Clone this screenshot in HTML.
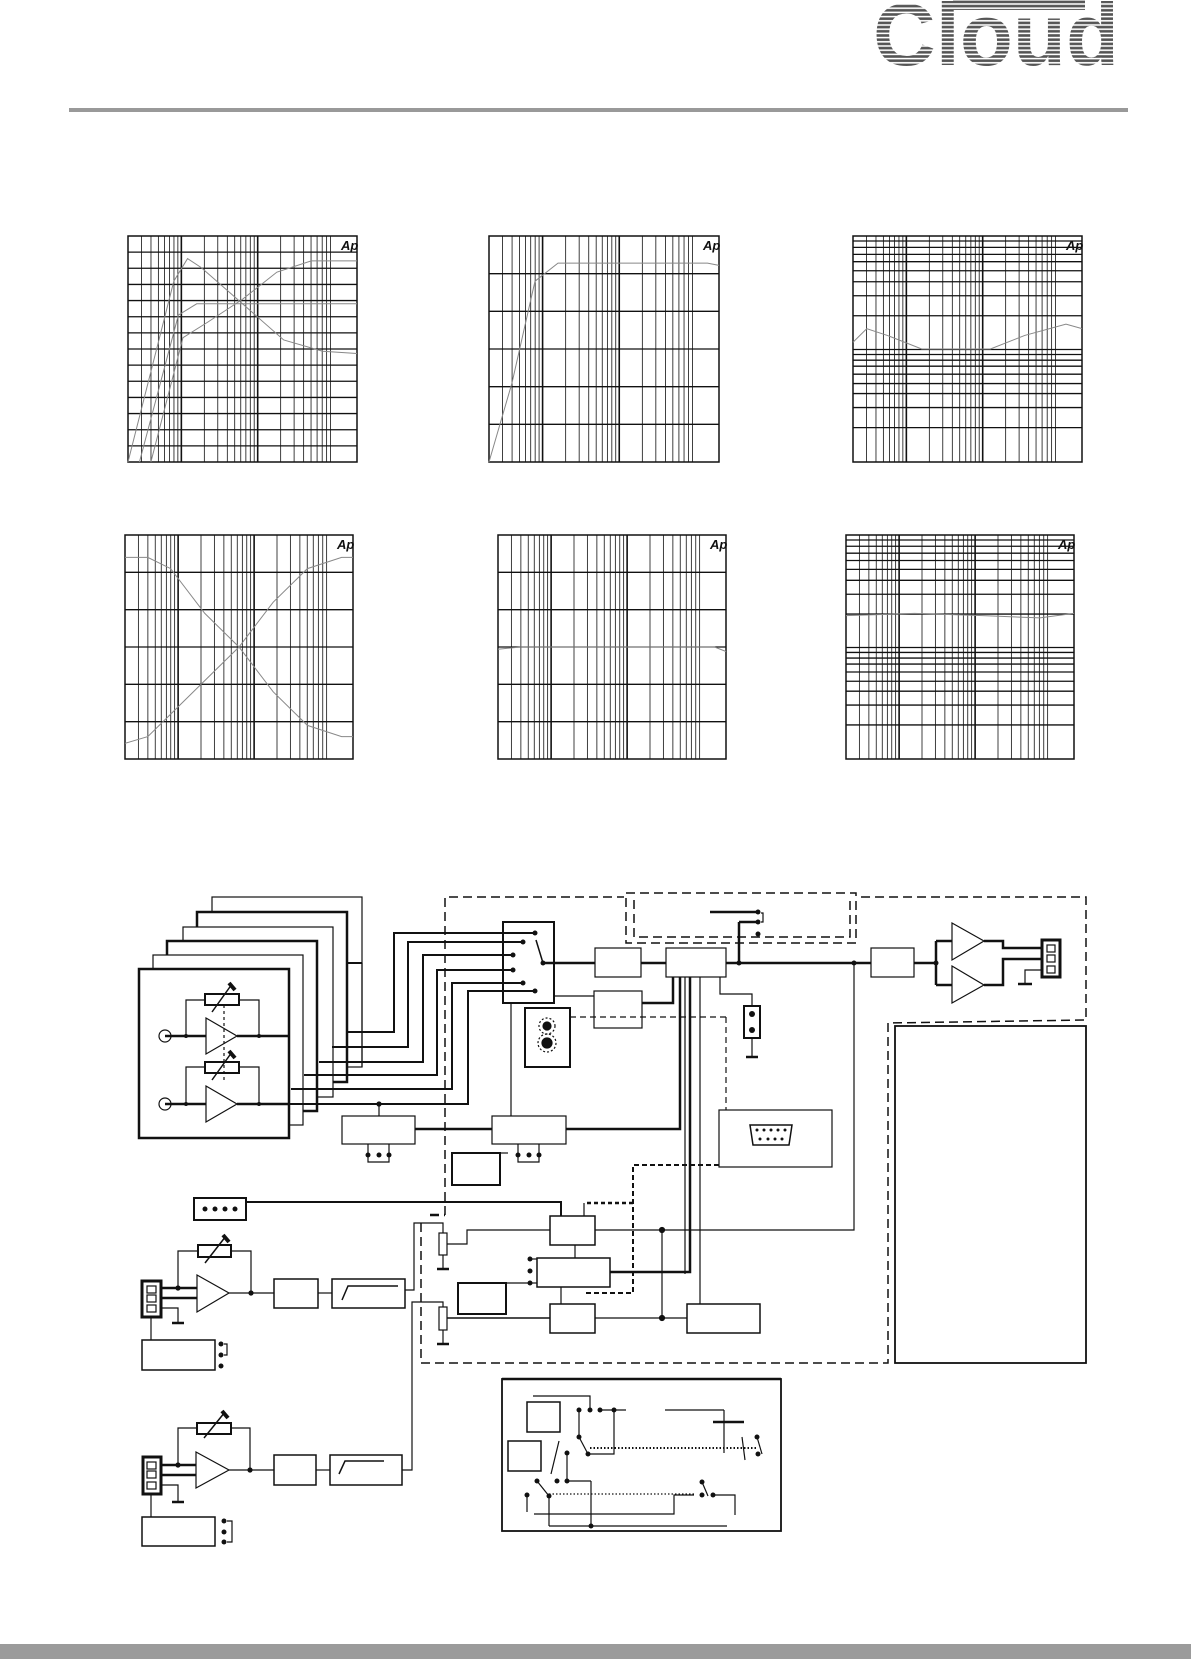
<!DOCTYPE html>
<html><head><meta charset="utf-8"><style>
html,body{margin:0;padding:0;background:#fff}
svg{display:block}
</style></head><body>
<svg id="s" width="1191" height="1659" viewBox="0 0 1191 1659" xmlns="http://www.w3.org/2000/svg" font-family="Liberation Sans, sans-serif">
<defs>
<pattern id="stripe" width="4" height="4.2" patternUnits="userSpaceOnUse">
<rect width="4" height="4.2" fill="#fff"/><rect y="0.6" width="4" height="2.6" fill="#555"/>
</pattern>
</defs>
<!-- logo -->
<rect x="953" y="0" width="132" height="10" fill="url(#stripe)"/>
<text x="873" y="65" font-size="88" font-weight="bold" textLength="246" lengthAdjust="spacingAndGlyphs" fill="url(#stripe)">Cloud</text>
<rect x="69" y="108" width="1059" height="4" fill="#999"/>
<rect x="0" y="1644" width="1191" height="15" fill="#9b9b9b"/>
<g id="charts"></g>
<g id="diag" fill="none" stroke="#111" stroke-width="1.2">
<!-- back cards -->
<rect x="212" y="897" width="150" height="170" fill="#fff"/>
<rect x="197" y="912" width="150" height="170" fill="#fff" stroke-width="2.5"/>
<rect x="183" y="927" width="150" height="170" fill="#fff"/>
<rect x="167" y="941" width="150" height="170" fill="#fff" stroke-width="2.5"/>
<rect x="153" y="955" width="150" height="170" fill="#fff"/>
<rect x="139" y="969" width="150" height="169" fill="#fff" stroke-width="2.5"/>
<!-- card contents row1 -->
<circle cx="165" cy="1036" r="6"/>
<line x1="165" y1="1036" x2="206" y2="1036" stroke-width="2.5"/>
<polygon points="206,1018 237,1036 206,1054"/>
<line x1="237" y1="1036" x2="289" y2="1036" stroke-width="2.5"/>
<polyline points="186,1036 186,1000 205,1000"/><polyline points="239,1000 259,1000 259,1036"/>
<rect x="205" y="994" width="34" height="11" stroke-width="2"/>
<line x1="212" y1="1012" x2="232" y2="984" stroke-width="1.5"/><line x1="229" y1="983" x2="235" y2="990" stroke-width="4"/>
<line x1="224" y1="1005" x2="224" y2="1080" stroke-dasharray="3,3"/>
<!-- row2 -->
<circle cx="165" cy="1104" r="6"/>
<line x1="165" y1="1104" x2="206" y2="1104" stroke-width="2.5"/>
<polygon points="206,1086 237,1104 206,1122"/>
<line x1="237" y1="1104" x2="289" y2="1104" stroke-width="2.5"/>
<polyline points="186,1104 186,1067 205,1067"/><polyline points="239,1067 259,1067 259,1104"/>
<rect x="205" y="1062" width="34" height="11" stroke-width="2"/>
<line x1="212" y1="1080" x2="232" y2="1052" stroke-width="1.5"/><line x1="229" y1="1051" x2="235" y2="1058" stroke-width="4"/>
<g fill="#111" stroke="none"><circle cx="186" cy="1036" r="2"/><circle cx="259" cy="1036" r="2"/><circle cx="186" cy="1104" r="2"/><circle cx="259" cy="1104" r="2"/></g>
<!-- bus lines -->
<g stroke-width="2">
<polyline points="347,1032 394,1032 394,933 535,933"/>
<polyline points="332,1047 408,1047 408,942 523,942"/>
<polyline points="319,1062 423,1062 423,955 513,955"/>
<polyline points="304,1075 437,1075 437,970 513,970"/>
<polyline points="291,1089 452,1089 452,983 523,983"/>
<polyline points="289,1104 468,1104 468,991 535,991"/>
</g>
<line x1="362" y1="963" x2="362" y2="1067"/><line x1="347" y1="963" x2="362" y2="963" stroke-width="2"/>
<!-- selector -->
<rect x="503" y="922" width="51" height="81" stroke-width="2"/>
<g fill="#111" stroke="none"><circle cx="535" cy="933" r="2.5"/><circle cx="523" cy="942" r="2.5"/><circle cx="513" cy="955" r="2.5"/><circle cx="513" cy="970" r="2.5"/><circle cx="523" cy="983" r="2.5"/><circle cx="535" cy="991" r="2.5"/><circle cx="543" cy="963" r="2.5"/></g>
<line x1="543" y1="963" x2="536" y2="940" stroke-width="1.5"/>
<!-- main line -->
<g stroke-width="2.5"><line x1="543" y1="963" x2="595" y2="963"/><line x1="641" y1="963" x2="666" y2="963"/><line x1="726" y1="963" x2="871" y2="963"/><line x1="914" y1="963" x2="936" y2="963"/>
<polyline points="936,941 936,985"/><line x1="936" y1="941" x2="952" y2="941"/><line x1="936" y1="985" x2="952" y2="985"/>
<polyline points="984,941 1003,941 1003,948 1042,948"/><polyline points="984,985 1003,985 1003,959 1042,959"/>
</g>
<rect x="595" y="948" width="46" height="29"/>
<rect x="666" y="948" width="60" height="29"/>
<rect x="594" y="991" width="48" height="37"/>
<rect x="871" y="948" width="43" height="29"/>
<polygon points="952,923 984,941 952,960"/>
<polygon points="952,966 984,985 952,1003"/>
<rect x="1042" y="940" width="18" height="37" stroke-width="3"/>
<g fill="#111" stroke="none"><rect x="1047" y="945" width="8" height="7" fill="none" stroke="#111"/><rect x="1047" y="955" width="8" height="7" fill="none" stroke="#111"/><rect x="1047" y="966" width="8" height="7" fill="none" stroke="#111"/></g>
<polyline points="1042,970 1025,970 1025,984"/><line x1="1018" y1="984" x2="1032" y2="984" stroke-width="2.5"/>
<g fill="#111" stroke="none"><circle cx="739" cy="963" r="2.5"/><circle cx="854" cy="963" r="2.5"/><circle cx="936" cy="963" r="2.5"/></g>
<line x1="739" y1="963" x2="739" y2="922" stroke-width="2.5"/><line x1="739" y1="922" x2="758" y2="922" stroke-width="2.5"/>
<line x1="710" y1="912" x2="758" y2="912" stroke-width="2.5"/>
<g fill="#111" stroke="none"><circle cx="758" cy="912" r="2.5"/><circle cx="758" cy="922" r="2.5"/><circle cx="758" cy="934" r="2.5"/></g>
<polyline points="761,913 763,913 763,922 761,922"/>
<!-- selector to B3 -->
<polyline points="554,996 594,996"/><polyline points="642,1003 673,1003 673,977" stroke-width="2.5"/>
<line x1="511" y1="1003" x2="511" y2="1116"/>
<!-- LED -->
<rect x="525" y="1008" width="45" height="59" stroke-width="2"/>
<circle cx="547" cy="1026" r="4" fill="#111"/><circle cx="547" cy="1043" r="5" fill="#111"/>
<g stroke-dasharray="2,2"><circle cx="547" cy="1026" r="8"/><circle cx="547" cy="1043" r="9"/></g>
<line x1="570" y1="1017" x2="726" y2="1017" stroke-dasharray="6,4"/>
<line x1="726" y1="1017" x2="726" y2="1110" stroke-dasharray="6,4"/>
<!-- jumper -->
<polyline points="720,977 720,994 752,994 752,1006"/>
<rect x="744" y="1006" width="16" height="32" stroke-width="2"/>
<g fill="#111" stroke="none"><circle cx="752" cy="1014" r="3"/><circle cx="752" cy="1030" r="3"/></g>
<line x1="752" y1="1038" x2="752" y2="1057"/><line x1="746" y1="1057" x2="758" y2="1057" stroke-width="2.5"/>
<!-- verticals from B2 -->
<polyline points="680,977 680,1129 566,1129" stroke-width="2.5"/>
<line x1="685" y1="977" x2="685" y2="1274"/>
<polyline points="690,977 690,1272 610,1272" stroke-width="2.5"/>
<polyline points="700,977 700,1304"/>
<!-- C1 C2 -->
<rect x="342" y="1116" width="73" height="28"/>
<rect x="492" y="1116" width="74" height="28"/>
<line x1="415" y1="1129" x2="492" y2="1129" stroke-width="2.5"/>
<line x1="379" y1="1104" x2="379" y2="1116"/><circle cx="379" cy="1104" r="2" fill="#111"/>
<g fill="#111" stroke="none"><circle cx="368" cy="1155" r="2.5"/><circle cx="379" cy="1155" r="2.5"/><circle cx="389" cy="1155" r="2.5"/><circle cx="518" cy="1155" r="2.5"/><circle cx="529" cy="1155" r="2.5"/><circle cx="539" cy="1155" r="2.5"/></g>
<polyline points="368,1144 368,1162 389,1162 389,1144"/><polyline points="518,1144 518,1162 539,1162 539,1144"/>
<rect x="452" y="1153" width="48" height="32" stroke-width="2"/><line x1="500" y1="1153" x2="508" y2="1153"/>
<!-- DB9 -->
<rect x="719" y="1110" width="113" height="57"/>
<path d="M750,1125 L792,1125 L789,1145 L753,1145 Z" stroke-width="1.5"/>
<g fill="#111" stroke="none"><circle cx="757" cy="1130" r="1.5"/><circle cx="764" cy="1130" r="1.5"/><circle cx="771" cy="1130" r="1.5"/><circle cx="778" cy="1130" r="1.5"/><circle cx="785" cy="1130" r="1.5"/><circle cx="760" cy="1139" r="1.5"/><circle cx="768" cy="1139" r="1.5"/><circle cx="775" cy="1139" r="1.5"/><circle cx="782" cy="1139" r="1.5"/></g>
<polyline points="719,1165 633,1165 633,1293 584,1293" stroke-dasharray="5,3" stroke-width="2"/>
<polyline points="633,1203 584,1203" stroke-dasharray="4,3" stroke-width="2.5"/>
<!-- keypad -->
<rect x="194" y="1198" width="52" height="22" stroke-width="2"/>
<g fill="#111" stroke="none"><circle cx="205" cy="1209" r="2.5"/><circle cx="215" cy="1209" r="2.5"/><circle cx="225" cy="1209" r="2.5"/><circle cx="235" cy="1209" r="2.5"/></g>
<polyline points="246,1202 561,1202 561,1216" stroke-width="2"/>
<line x1="584" y1="1203" x2="584" y2="1216"/>
<!-- D blocks -->
<rect x="550" y="1216" width="45" height="29" stroke-width="1.5"/>
<rect x="537" y="1258" width="73" height="29" stroke-width="1.5"/>
<rect x="550" y="1304" width="45" height="29" stroke-width="1.5"/>
<rect x="687" y="1304" width="73" height="29" stroke-width="1.5"/>
<rect x="458" y="1283" width="48" height="31" stroke-width="2"/>
<line x1="575" y1="1245" x2="575" y2="1258"/>
<polyline points="561,1287 561,1304"/>
<polyline points="595,1230 854,1230 854,963"/>
<line x1="662" y1="1230" x2="662" y2="1318"/><circle cx="662" cy="1230" r="2.5" fill="#111"/><circle cx="662" cy="1318" r="2.5" fill="#111"/>
<line x1="595" y1="1318" x2="687" y2="1318"/>
<g fill="#111" stroke="none"><circle cx="530" cy="1259" r="2.5"/><circle cx="530" cy="1271" r="2.5"/><circle cx="530" cy="1283" r="2.5"/></g>
<polyline points="530,1259 537,1259"/><polyline points="530,1283 537,1283"/><line x1="506" y1="1283" x2="530" y2="1283"/>
<!-- pots -->
<rect x="439" y="1233" width="8" height="22"/>
<rect x="439" y="1307" width="8" height="23"/>
<polyline points="550,1230 467,1230 467,1244 447,1244"/>
<polyline points="550,1318 447,1318" stroke-width="1.5"/>
<line x1="443" y1="1255" x2="443" y2="1269"/><line x1="437" y1="1269" x2="449" y2="1269" stroke-width="2.5"/>
<line x1="443" y1="1330" x2="443" y2="1344"/><line x1="437" y1="1344" x2="449" y2="1344" stroke-width="2.5"/>
<polyline points="405,1290 414,1290 414,1223 443,1223 443,1233"/>
<polyline points="402,1470 412,1470 412,1302 443,1302 443,1307"/>
<!-- dashed enclosures -->
<g stroke-dasharray="9,5" stroke-width="1.5">
<polyline points="445,1215 445,897 624,897"/>
<polyline points="421,1223 421,1363 888,1363 888,1023 1086,1020 1086,897 856,897"/>
<rect x="626" y="893" width="230" height="50"/>
<polyline points="634,900 634,937 850,937 850,900"/>
<line x1="430" y1="1215" x2="445" y2="1215" stroke-width="2.5"/>
</g>
<rect x="895" y="1026" width="191" height="337" stroke-width="1.8"/>
<!-- lower channel 1 -->
<rect x="142" y="1281" width="19" height="36" stroke-width="3"/>
<rect x="147" y="1286" width="9" height="7"/><rect x="147" y="1295" width="9" height="7"/><rect x="147" y="1305" width="9" height="7"/>
<polygon points="197,1275 229,1293 197,1312"/>
<g stroke-width="2.5"><line x1="161" y1="1288" x2="197" y2="1288"/><line x1="161" y1="1298" x2="197" y2="1298"/></g>
<polyline points="178,1288 178,1251 198,1251"/><polyline points="231,1251 251,1251 251,1293"/>
<rect x="198" y="1245" width="33" height="12" stroke-width="2"/>
<line x1="205" y1="1263" x2="226" y2="1236" stroke-width="1.5"/><line x1="223" y1="1235" x2="229" y2="1242" stroke-width="4"/>
<line x1="229" y1="1293" x2="274" y2="1293"/><circle cx="251" cy="1293" r="2" fill="#111"/><circle cx="178" cy="1288" r="2" fill="#111"/>
<polyline points="161,1308 178,1308 178,1323"/><line x1="172" y1="1323" x2="184" y2="1323" stroke-width="2.5"/>
<rect x="274" y="1279" width="44" height="29" stroke-width="1.5"/>
<line x1="318" y1="1293" x2="332" y2="1293"/>
<rect x="332" y="1279" width="73" height="29" stroke-width="1.5"/>
<polyline points="342,1300 348,1286 398,1286" stroke-width="1.5"/>
<line x1="151" y1="1317" x2="151" y2="1340"/>
<rect x="142" y="1340" width="73" height="30" stroke-width="1.5"/>
<g fill="#111" stroke="none"><circle cx="221" cy="1344" r="2.5"/><circle cx="221" cy="1355" r="2.5"/><circle cx="221" cy="1366" r="2.5"/></g>
<polyline points="224,1344 227,1344 227,1355 224,1355"/>
<!-- lower channel 2 -->
<rect x="143" y="1457" width="18" height="37" stroke-width="3"/>
<rect x="147" y="1462" width="9" height="7"/><rect x="147" y="1471" width="9" height="7"/><rect x="147" y="1482" width="9" height="7"/>
<polygon points="196,1452 229,1470 196,1488"/>
<g stroke-width="2.5"><line x1="161" y1="1465" x2="196" y2="1465"/><line x1="161" y1="1475" x2="196" y2="1475"/></g>
<polyline points="178,1465 178,1428 197,1428"/><polyline points="231,1428 250,1428 250,1470"/>
<rect x="197" y="1423" width="34" height="11" stroke-width="2"/>
<line x1="204" y1="1438" x2="225" y2="1412" stroke-width="1.5"/><line x1="222" y1="1411" x2="228" y2="1418" stroke-width="4"/>
<line x1="229" y1="1470" x2="274" y2="1470"/><circle cx="250" cy="1470" r="2" fill="#111"/><circle cx="178" cy="1465" r="2" fill="#111"/>
<polyline points="161,1485 178,1485 178,1502"/><line x1="172" y1="1502" x2="184" y2="1502" stroke-width="2.5"/>
<rect x="274" y="1455" width="42" height="30" stroke-width="1.5"/>
<line x1="316" y1="1470" x2="330" y2="1470"/>
<rect x="330" y="1455" width="72" height="30" stroke-width="1.5"/>
<polyline points="339,1474 345,1461 384,1461" stroke-width="1.5"/>
<line x1="151" y1="1494" x2="151" y2="1517"/>
<rect x="142" y="1517" width="73" height="29" stroke-width="1.5"/>
<g fill="#111" stroke="none"><circle cx="224" cy="1521" r="2.5"/><circle cx="224" cy="1532" r="2.5"/><circle cx="224" cy="1542" r="2.5"/></g>
<polyline points="227,1521 232,1521 232,1542 227,1542"/>
<!-- inset -->
<rect x="502" y="1379" width="279" height="152" stroke-width="1.8"/>
<line x1="502" y1="1379" x2="781" y2="1379" stroke-width="2.5"/>
<rect x="527" y="1402" width="33" height="30" stroke-width="1.5"/>
<rect x="508" y="1441" width="33" height="30" stroke-width="1.5"/>
<polyline points="533,1396 590,1396 590,1410"/>
<g fill="#111" stroke="none"><circle cx="579" cy="1410" r="2.5"/><circle cx="590" cy="1410" r="2.5"/><circle cx="600" cy="1410" r="2.5"/><circle cx="614" cy="1410" r="2.5"/><circle cx="579" cy="1437" r="2.5"/><circle cx="588" cy="1454" r="2.5"/><circle cx="567" cy="1453" r="2.5"/><circle cx="757" cy="1437" r="2.5"/><circle cx="758" cy="1454" r="2.5"/><circle cx="537" cy="1481" r="2.5"/><circle cx="557" cy="1481" r="2.5"/><circle cx="567" cy="1481" r="2.5"/><circle cx="549" cy="1496" r="2.5"/><circle cx="527" cy="1495" r="2.5"/><circle cx="702" cy="1495" r="2.5"/><circle cx="713" cy="1495" r="2.5"/><circle cx="702" cy="1482" r="2.5"/><circle cx="591" cy="1526" r="2.5"/></g>
<line x1="600" y1="1410" x2="626" y2="1410"/><line x1="665" y1="1410" x2="724" y2="1410"/><polyline points="724,1410 724,1453"/>
<line x1="713" y1="1422" x2="744" y2="1422" stroke-width="2.5"/>
<polyline points="614,1410 614,1454 588,1454"/>
<line x1="579" y1="1410" x2="579" y2="1437"/><line x1="579" y1="1437" x2="588" y2="1454"/>
<line x1="757" y1="1437" x2="762" y2="1454"/>
<line x1="590" y1="1448" x2="757" y2="1448" stroke-dasharray="1.5,2" stroke-width="2"/>
<line x1="567" y1="1453" x2="567" y2="1481"/>
<line x1="559" y1="1441" x2="551" y2="1474"/>
<line x1="537" y1="1481" x2="549" y2="1496"/>
<line x1="549" y1="1494" x2="694" y2="1494" stroke-dasharray="1.5,2"/>
<polyline points="591,1481 591,1526"/>
<line x1="549" y1="1496" x2="549" y2="1526"/><line x1="549" y1="1526" x2="727" y2="1526"/>
<polyline points="527,1495 527,1512"/>
<polyline points="534,1514 674,1514 674,1495 694,1495" />
<line x1="702" y1="1482" x2="708" y2="1496"/>
<polyline points="713,1495 735,1495 735,1515"/>
<line x1="742" y1="1437" x2="745" y2="1460"/>
<polyline points="567,1481 586,1481 591,1481"/>
</g>
<script>
(function(){
var NS="http://www.w3.org/2000/svg",g=document.getElementById('charts');
function el(t,a){var e=document.createElementNS(NS,t);for(var k in a)e.setAttribute(k,a[k]);g.appendChild(e);return e;}
var lin14=[],lin6=[];for(var i=1;i<14;i++)lin14.push(i/14);for(i=1;i<6;i++)lin6.push(i/6);
var logy=[723,742,763,785,812,845,887,947,1048,1063,1080,1098,1122,1150,1180,1222,1282].map(function(v){return (v-708)/677;});
function chart(x,y,w,h,hl,curves){
 el('rect',{x:x,y:y,width:w,height:h,fill:'#fff',stroke:'#111','stroke-width':1.5});
 for(var k=0;k<3;k++)for(var m=1;m<=9;m++){var f=m*Math.pow(10,k+1);if(f<=20||f>=20000)continue;var xx=x+w*Math.log10(f/20)/3;
  el('line',{x1:xx,y1:y,x2:xx,y2:y+h,stroke:'#111','stroke-width':m==1?1.6:0.8});}
 hl.forEach(function(f){el('line',{x1:x,y1:y+h*f,x2:x+w,y2:y+h*f,stroke:'#111','stroke-width':1.3});});
 curves.forEach(function(c){el('polyline',{points:c.map(function(p){return (x+w*p[0])+','+(y+h*p[1]);}).join(' '),fill:'none',stroke:'#888','stroke-width':1});});
 var t=el('text',{x:x+w-16,y:y+14,'font-size':13,'font-weight':'bold','font-style':'italic',fill:'#111'});t.textContent='Ap';
}
chart(128,236,229,226,lin14,[[[0,1],[0.2,0.2],[0.26,0.1],[0.32,0.14],[0.5,0.3],[0.68,0.46],[0.85,0.51],[1,0.52]],[[0.05,1],[0.22,0.35],[0.3,0.3],[0.6,0.3],[1,0.3]],[[0.1,1],[0.24,0.45],[0.35,0.38],[0.5,0.28],[0.65,0.16],[0.8,0.11],[1,0.11]]]);
chart(489,236,230,226,lin6,[[[0,1],[0.1,0.65],[0.2,0.2],[0.3,0.12],[0.5,0.12],[0.95,0.12],[1,0.13]]]);
chart(853,236,229,226,logy,[[[0,0.47],[0.06,0.41],[0.15,0.44],[0.3,0.5],[0.45,0.5],[0.6,0.5],[0.75,0.44],[0.93,0.39],[1,0.41]]]);
chart(125,535,228,224,lin6,[[[0,0.1],[0.1,0.1],[0.2,0.15],[0.35,0.35],[0.5,0.5],[0.65,0.7],[0.8,0.85],[0.95,0.9],[1,0.9]],[[0,0.93],[0.1,0.9],[0.25,0.75],[0.4,0.6],[0.5,0.5],[0.65,0.3],[0.8,0.15],[0.95,0.1],[1,0.1]]]);
chart(498,535,228,224,lin6,[[[0,0.51],[0.1,0.5],[0.5,0.5],[0.95,0.5],[1,0.52]]]);
chart(846,535,228,224,logy,[[[0,0.36],[0.3,0.35],[0.6,0.36],[0.85,0.37],[1,0.35]]]);
})();
</script>
</svg>
</body></html>
